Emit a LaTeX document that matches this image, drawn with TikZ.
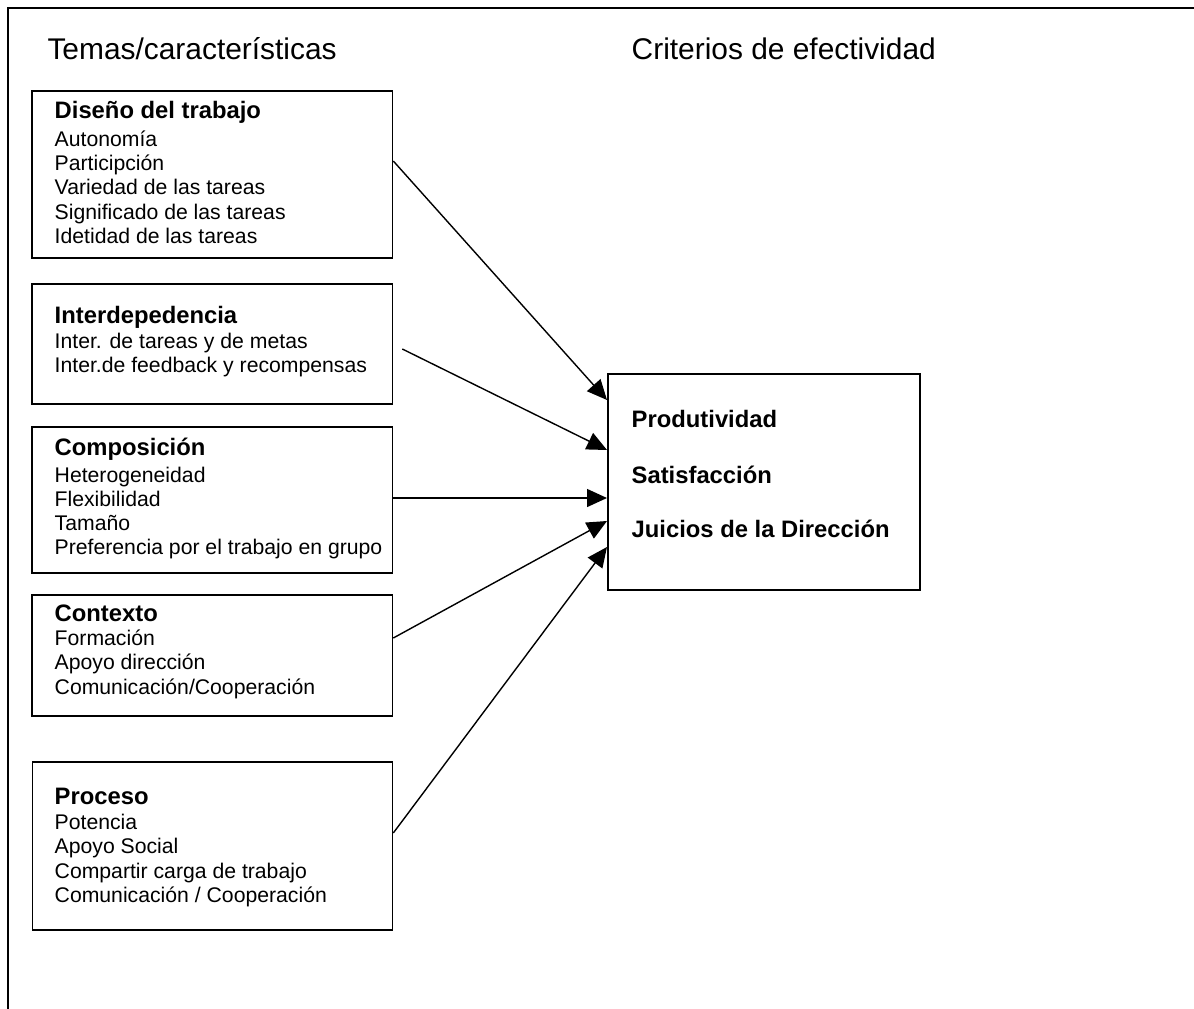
\documentclass[tikz,border=0pt]{standalone}
\usepackage{fontspec}
\setmainfont{Liberation Sans}
\usetikzlibrary{arrows.meta}

\tikzset{
  box/.style={draw, line width=1.8pt, inner sep=0pt, anchor=north west},
  itemtext/.style={inner sep=0pt, anchor=base west, font=\fontsize{21.2}{24.4}\selectfont},
  headtext/.style={inner sep=0pt, anchor=base west, font=\fontsize{23.8}{27}\selectfont\bfseries},
  titletext/.style={inner sep=0pt, anchor=base west, font=\fontsize{29.9}{34}\selectfont},
  arr/.style={line width=1.4pt, -{Triangle[length=20pt,width=18pt]}},
  frameline/.style={line width=1.8pt}
}

\begin{document}
\begin{tikzpicture}[x=1pt,y=-1pt]
\useasboundingbox (0,0) rectangle (1194,1009);
\fill[white] (0,0) rectangle (1194,1009);

% outer frame (top and left edges)
\draw[frameline] (1194,8) -- (8,8) -- (8,1009);

% column titles
\node[titletext] (tleft) at (47.3,59) {Temas/características};
\node[titletext] (tright) at (631.5,59) {Criterios de efectividad};

% left-hand boxes
\node[box, minimum width=360.5pt, minimum height=167pt] (b1) at (31,90) {};
\node[box, minimum width=360.5pt, minimum height=120pt] (b2) at (31,283) {};
\node[box, minimum width=360.5pt, minimum height=146pt] (b3) at (31,426) {};
\node[box, minimum width=360.5pt, minimum height=121pt] (b4) at (31,594) {};
\node[box, minimum width=360pt, minimum height=168pt] (b5) at (31.5,761) {};

% outcome box
\node[box, minimum width=312pt, minimum height=216pt] (tgt) at (607,373) {};

% box contents
\node[headtext] (h1) at (54.5,118) {Diseño del trabajo};
\foreach \t [count=\i] in {Autonomía, Participción, Variedad de las tareas, Significado de las tareas, Idetidad de las tareas}
  \node[itemtext] (b1-\i) at (54.5,{146+24.4*(\i-1)}) {\t};

\node[headtext] (h2) at (54.5,323) {Interdepedencia};
\foreach \t [count=\i] in {Inter. de tareas y de metas, Inter.de feedback y recompensas}
  \node[itemtext] (b2-\i) at (54.5,{348+24.4*(\i-1)}) {\t};

\node[headtext] (h3) at (54.5,455) {Composición};
\foreach \t [count=\i] in {Heterogeneidad, Flexibilidad, Tamaño, Preferencia por el trabajo en grupo}
  \node[itemtext] (b3-\i) at (54.5,{482+24.3*(\i-1)}) {\t};

\node[headtext] (h4) at (54.5,621) {Contexto};
\foreach \t [count=\i] in {Formación, Apoyo dirección, Comunicación/Cooperación}
  \node[itemtext] (b4-\i) at (54.5,{645.5+24.4*(\i-1)}) {\t};

\node[headtext] (h5) at (54.5,804) {Proceso};
\foreach \t [count=\i] in {Potencia, Apoyo Social, Compartir carga de trabajo, Comunicación / Cooperación}
  \node[itemtext] (b5-\i) at (54.5,{829+24.5*(\i-1)}) {\t};

\node[headtext] (o1) at (631.5,427) {Produtividad};
\node[headtext] (o2) at (631.5,483) {Satisfacción};
\node[headtext] (o3) at (631.5,537) {Juicios de la Dirección};

% connectors
\draw[arr] (b1.east |- 0,161) -- (tgt.west |- 0,400);
\draw[arr] ([xshift=9pt]b2.east |- 0,349) -- (tgt.west |- 0,450);
\draw[arr] (b3.east |- 0,498) -- (tgt.west |- 0,498);
\draw[arr] (b4.east |- 0,638) -- (tgt.west |- 0,521);
\draw[arr] (b5.east |- 0,833) -- (tgt.west |- 0,547);
\end{tikzpicture}
\end{document}
